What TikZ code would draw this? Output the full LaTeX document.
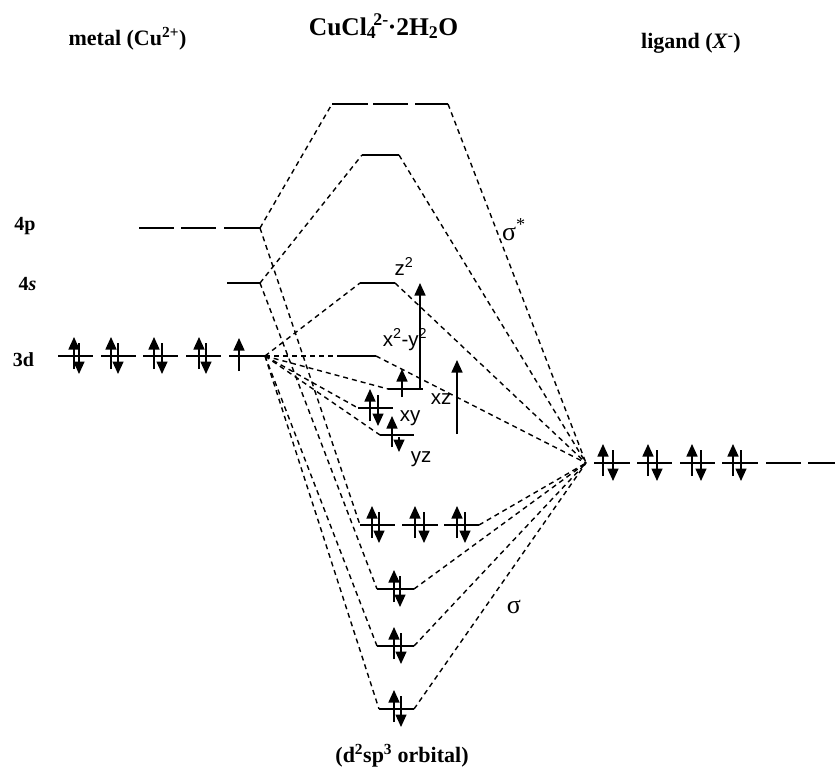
\documentclass[tikz,border=0pt]{standalone}
\usepackage{fontspec}
\setmainfont{Liberation Serif}
\newfontfamily\lblfont{Liberation Sans}
\usetikzlibrary{arrows.meta}
\tikzset{
  lev/.style={line width=2.3pt,black},
  conn/.style={line width=1.4pt,dash pattern=on 5pt off 4pt},
  elec/.style={line width=1.5pt,-{Triangle[length=12.5pt,width=11pt]}},
  txt/.style={inner sep=0pt,anchor=base},
  head/.style={txt,font=\bfseries\fontsize{22}{24}\selectfont},
  title/.style={txt,font=\bfseries\fontsize{25.5}{28}\selectfont},
  orb/.style={txt,font=\lblfont\fontsize{20.5}{22}\selectfont},
  atom/.style={txt,font=\bfseries\fontsize{20}{22}\selectfont},
  sig/.style={txt,font=\fontsize{26}{28}\selectfont},
}
% level: name, x1, x2, y
\newcommand{\lvl}[4]{\coordinate (#1-l) at (#2,#4);\coordinate (#1-r) at (#3,#4);\draw[lev] (#1-l) -- (#1-r);}
% electrons
\newcommand{\pair}[3]{\draw[elec] (#1,#3+13) -- (#1,#3-19);\draw[elec] (#2,#3-13) -- (#2,#3+18);}
\begin{document}
\begin{tikzpicture}[x=1pt,y=-1pt]
\useasboundingbox (0,0) rectangle (835,766);
% metal
\lvl{dA}{58}{93}{356}\lvl{dB}{101}{136}{356}\lvl{dC}{143}{178}{356}\lvl{dD}{186}{221}{356}\lvl{dE}{229}{265}{356}
\lvl{pA}{139}{174}{228}\lvl{pB}{181}{216}{228}\lvl{pC}{224}{260}{228}
\lvl{sA}{227}{260}{283}
\pair{74}{79}{356}\pair{111}{118}{356}\pair{154}{162}{356}\pair{199}{206}{356}
\draw[elec] (239,371) -- (239,338);
% antibonding
\lvl{tA}{332}{368}{104}\lvl{tB}{373}{408}{104}\lvl{tC}{415}{448}{104}
\lvl{u}{362}{399}{155}
\lvl{zz}{360}{395}{283}
\lvl{xy2}{342}{376}{356}
\lvl{xz}{388}{423}{389}
\lvl{xy}{358}{393}{408}
\lvl{yz}{380}{414}{435}
\draw[elec] (402,397) -- (402,369);
\pair{370}{378}{408}
\draw[elec] (392,447) -- (392,416);
\draw[elec] (399,437) -- (399,452);
\draw[elec] (420,389) -- (420,283);
\coordinate (gapB) at (457,434);\coordinate (gapT) at (457,360);
\draw[elec] (gapB) -- (gapT);
% bonding
\lvl{bA}{360}{395}{525}\lvl{bB}{402}{438}{525}\lvl{bC}{444}{479}{525}
\lvl{cc}{377}{414}{589}\lvl{dd}{377}{414}{646}\lvl{ee}{379}{414}{709}
\pair{372}{379}{525}\pair{415}{424}{525}\pair{457}{465}{525}
\pair{394}{400}{589}\pair{394}{401}{646}\pair{394}{401}{709}
% ligand
\lvl{lA}{594}{630}{463}\lvl{lB}{637}{672}{463}\lvl{lC}{680}{715}{463}\lvl{lD}{722}{758}{463}\lvl{lE}{766}{801}{463}\lvl{lF}{808}{835}{463}
\pair{603}{613}{463}\pair{648}{657}{463}\pair{692}{701}{463}\pair{733}{741}{463}
\coordinate (L) at (586,463);
% connectors
\draw[conn] (pC-r) -- (tA-l);
\draw[conn] (sA-r) -- (u-l);
\draw[conn] (dE-r) -- (zz-l);
\draw[conn] (dE-r) -- (xy2-l);
\draw[conn] (dE-r) -- (xz-l);
\draw[conn] (dE-r) -- (xy-l);
\draw[conn] (dE-r) -- (yz-l);
\draw[conn] (pC-r) -- (bA-l);
\draw[conn] (sA-r) -- (cc-l);
\draw[conn] (dE-r) -- (dd-l);
\draw[conn] (dE-r) -- (ee-l);
\draw[conn] (tC-r) -- (L);
\draw[conn] (u-r) -- (L);
\draw[conn] (zz-r) -- (L);
\draw[conn] (xy2-r) -- (L);
\draw[conn] (bC-r) -- (L);
\draw[conn] (cc-r) -- (L);
\draw[conn] (dd-r) -- (L);
\draw[conn] (ee-r) -- (L);
% text
\node[head] (metal) at (127.5,45) {metal (Cu\textsuperscript{2+})};
\node[title] (mol) at (383.5,35) {CuCl\textsubscript{4}\textsuperscript{\kern-3pt 2-}\kern-1pt·2H\textsubscript{2}O};
\node[head] (lig) at (691,48) {ligand (\textit{X}\textsuperscript{-})};
\node[atom] (n4p) at (25,230) {4p};
\node[atom] (n4s) at (27.5,290) {4\textit{s}};
\node[atom] (n3d) at (23.5,366) {3d};
\node[sig] (sstar) at (514,240) {σ\textsuperscript{*}};
\node[sig] (sg) at (514,613) {σ};
\node[orb] (lz) at (404,275) {z\textsuperscript{2}};
\node[orb] (lxy2) at (405,346) {x\textsuperscript{2}-y\textsuperscript{2}};
\node[orb] (lxz) at (441,404) {xz};
\node[orb] (lxy) at (410,421) {xy};
\node[orb] (lyz) at (421,462) {yz};
\node[head] (hyb) at (402,762) {(d\textsuperscript{2}sp\textsuperscript{3} orbital)};
\end{tikzpicture}
\end{document}
